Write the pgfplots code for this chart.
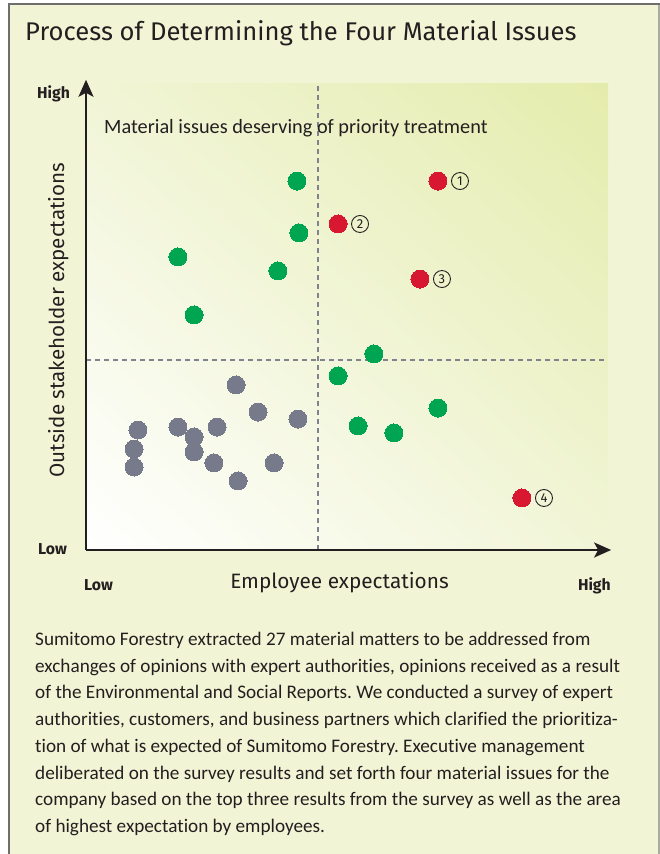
\documentclass[border=0pt]{standalone}
\usepackage{fontspec}
\setmainfont[Ligatures=NoCommon]{Carlito}
\newfontfamily\din{Fira Sans}
\usepackage{pgfplots}
\pgfplotsset{compat=1.18}
\usetikzlibrary{arrows.meta,shadings}
\definecolor{bg}{RGB}{242,245,213}
\definecolor{gradTR}{RGB}{228,236,172}
\definecolor{gradMid}{RGB}{241,245,214}
\definecolor{framegray}{RGB}{110,110,110}
\definecolor{framelight}{RGB}{170,170,165}
\definecolor{txt}{RGB}{35,31,32}
\definecolor{dotred}{RGB}{215,24,48}
\definecolor{dotgreen}{RGB}{0,165,81}
\definecolor{dotgray}{RGB}{118,122,138}
\definecolor{dashcol}{RGB}{128,130,142}
\frenchspacing
\begin{document}
\begin{tikzpicture}[x=1pt,y=1pt]
\useasboundingbox (0,0) rectangle (660,854);
\fill[white] (0,0) rectangle (660,854);
\fill[bg] (8,0) rectangle (660,850);
\draw[line width=2pt, framegray] (8.5,0) -- (8.5,850) -- (660,850);
\draw[line width=1.5pt, framelight] (659.2,0) -- (659.2,849);
\node[anchor=base west, inner sep=0, text=txt, font=\din\fontsize{25.6}{28}\selectfont] at (25,813.3) {Process of Determining the Four Material Issues};

\begin{axis}[at={(86pt,304pt)}, anchor=south west, scale only axis,
  width=522pt, height=466pt, xmin=0, xmax=100, ymin=0, ymax=100,
  axis lines=left, xtick=\empty, ytick=\empty, clip=false,
  axis line style={draw=none}]
\shade[lower left=white, upper right=gradTR, upper left=gradMid, lower right=gradMid] (axis cs:0,0) rectangle (axis cs:100,100);
\draw[dashcol, line width=2pt, dash pattern=on 5pt off 4pt] (axis cs:44.44,0) -- (axis cs:44.44,100);
\draw[dashcol, line width=2pt, dash pattern=on 5pt off 4pt] (axis cs:0,40.77) -- (axis cs:99.4,40.77);
\draw[txt, line width=2pt, -{Stealth[length=17pt,width=15pt,inset=4pt]}] (axis cs:0,0) -- (axis cs:100.6,0);
\draw[txt, line width=2pt, -{Stealth[length=17pt,width=15pt,inset=4pt]}] (axis cs:0,0) -- (axis cs:0,100.9);

\addplot[only marks, color=dotgray, mark=*, mark size=9pt, mark options={fill=dotgray, draw=dotgray, line width=0pt}] coordinates {
(28.74,35.41) (32.95,29.61) (40.61,28.11) (9.96,25.75) (17.62,26.39) (25.10,26.39)
(20.69,24.25) (9.20,21.67) (20.69,21.03) (9.20,17.81) (24.52,18.67) (36.02,18.67) (29.12,14.81)};
\addplot[only marks, color=dotgreen, mark=*, mark size=9pt, mark options={fill=dotgreen, draw=dotgreen, line width=0pt}] coordinates {
(40.42,79.18) (40.80,68.03) (17.62,62.88) (36.78,59.87) (20.69,50.43)
(55.17,42.06) (48.28,37.34) (67.43,30.47) (52.11,26.61) (59.00,25.11)};
\addplot[only marks, color=dotred, mark=*, mark size=9pt, mark options={fill=dotred, draw=dotred, line width=0pt}] coordinates {
(67.43,79.18) (48.28,69.96) (63.98,58.15) (83.52,11.16)};

\foreach \px/\py/\n in {67.43/79.18/1, 48.28/69.96/2, 63.98/58.15/3, 83.52/11.16/4}{
  \edef\tmp{\noexpand\node[circle, draw=txt, line width=0.9pt, minimum size=17pt, inner sep=0pt, text=txt, font=\noexpand\din\noexpand\fontsize{13}{13}\noexpand\selectfont, xshift=22pt] at (axis cs:\px,\py) {\n};}
  \tmp
}
\end{axis}

\node[anchor=base west, inner sep=0, text=txt, font=\fontsize{20.3}{24}\selectfont] at (104,720) {Material issues deserving of priority treatment};
\node[anchor=base west, inner sep=0, text=txt, font=\din\bfseries\fontsize{15.8}{18}\selectfont] at (37,755) {High};
\node[anchor=base west, inner sep=0, text=txt, font=\din\bfseries\fontsize{15.8}{18}\selectfont] at (38,299) {Low};
\node[anchor=base west, inner sep=0, text=txt, font=\din\bfseries\fontsize{15.8}{18}\selectfont] at (84,263) {Low};
\node[anchor=base east, inner sep=0, text=txt, font=\din\bfseries\fontsize{15.8}{18}\selectfont] at (611,263) {High};
\node[anchor=base, inner sep=0, text=txt, font=\din\fontsize{20.8}{24}\selectfont] at (339.5,265) {Employee expectations};
\node[anchor=base, rotate=90, inner sep=0, text=txt, font=\din\fontsize{20.6}{24}\selectfont] at (64,534) {Outside stakeholder expectations};

\begin{scope}[every node/.style={anchor=base west, inner sep=0, text=txt, font=\fontsize{19.2}{22}\selectfont}]
\node at (35,208) {Sumitomo Forestry extracted 27 material matters to be addressed from};
\node at (35,181) {exchanges of opinions with expert authorities, opinions received as a result};
\node at (35,155) {of the Environmental and Social Reports. We conducted a survey of expert};
\node at (35,128) {authorities, customers, and business partners which clarified the prioritiza-};
\node at (35,101) {tion of what is expected of Sumitomo Forestry. Executive management};
\node at (35,74) {deliberated on the survey results and set forth four material issues for the};
\node at (35,48) {company based on the top three results from the survey as well as the area};
\node at (35,21) {of highest expectation by employees.};
\end{scope}
\end{tikzpicture}
\end{document}
